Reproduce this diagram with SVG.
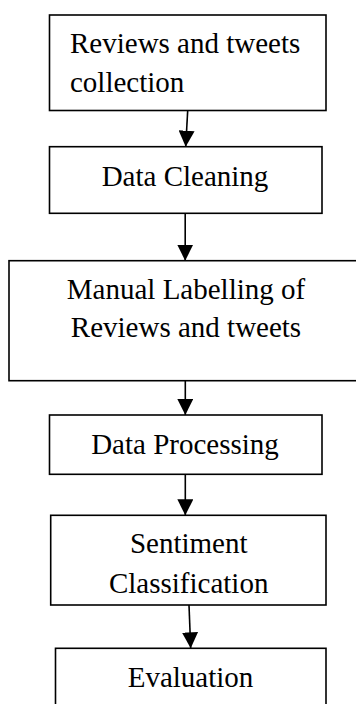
<svg xmlns="http://www.w3.org/2000/svg" width="356" height="704" viewBox="0 0 356 704">
<style>
.box{fill:#fff;stroke:#000;stroke-width:1.6}
.t{font-family:"Liberation Serif","Times New Roman",serif;font-size:29px;fill:#000}
.c{text-anchor:middle}
.conn{stroke:#000;stroke-width:1.6;fill:none}
</style>
<defs>
<marker id="ah" markerUnits="userSpaceOnUse" markerWidth="16" markerHeight="16" refX="15" refY="7.5" orient="auto" viewBox="0 0 15 15">
<path d="M0,0 L15,7.5 L0,15 z" fill="#000"/>
</marker>
</defs>
<rect width="356" height="704" fill="#fff"/>
<g id="n1">
<rect class="box" x="49.5" y="15" width="276.5" height="95.5"/>
<text class="t" x="70" y="53">Reviews and tweets</text>
<text class="t" x="70" y="92">collection</text>
</g>
<g id="n2">
<rect class="box" x="49.5" y="146.7" width="272.5" height="66.6"/>
<text class="t c" x="185" y="186">Data Cleaning</text>
</g>
<g id="n3">
<rect class="box" x="9" y="260.7" width="360" height="120"/>
<text class="t c" x="186" y="299.3">Manual Labelling of</text>
<text class="t c" x="186" y="336.7">Reviews and tweets</text>
</g>
<g id="n4">
<rect class="box" x="49.5" y="415" width="272.5" height="59.3"/>
<text class="t c" x="185" y="454">Data Processing</text>
</g>
<g id="n5">
<rect class="box" x="50.7" y="515.3" width="275.3" height="89.7"/>
<text class="t c" x="188.7" y="553.3">Sentiment</text>
<text class="t c" x="188.7" y="593.3">Classification</text>
</g>
<g id="n6">
<rect class="box" x="55.5" y="648.3" width="270.5" height="70"/>
<text class="t c" x="190.5" y="686.7">Evaluation</text>
</g>
<g id="connectors">
<line class="conn" x1="187.7" y1="110.5" x2="185.7" y2="146.7" marker-end="url(#ah)"/>
<line class="conn" x1="185.2" y1="213.3" x2="185.2" y2="260.7" marker-end="url(#ah)"/>
<line class="conn" x1="185.3" y1="380.7" x2="185.3" y2="415" marker-end="url(#ah)"/>
<line class="conn" x1="185.3" y1="474.3" x2="185.3" y2="515.3" marker-end="url(#ah)"/>
<line class="conn" x1="189" y1="605" x2="190.7" y2="648.3" marker-end="url(#ah)"/>
</g>
</svg>
